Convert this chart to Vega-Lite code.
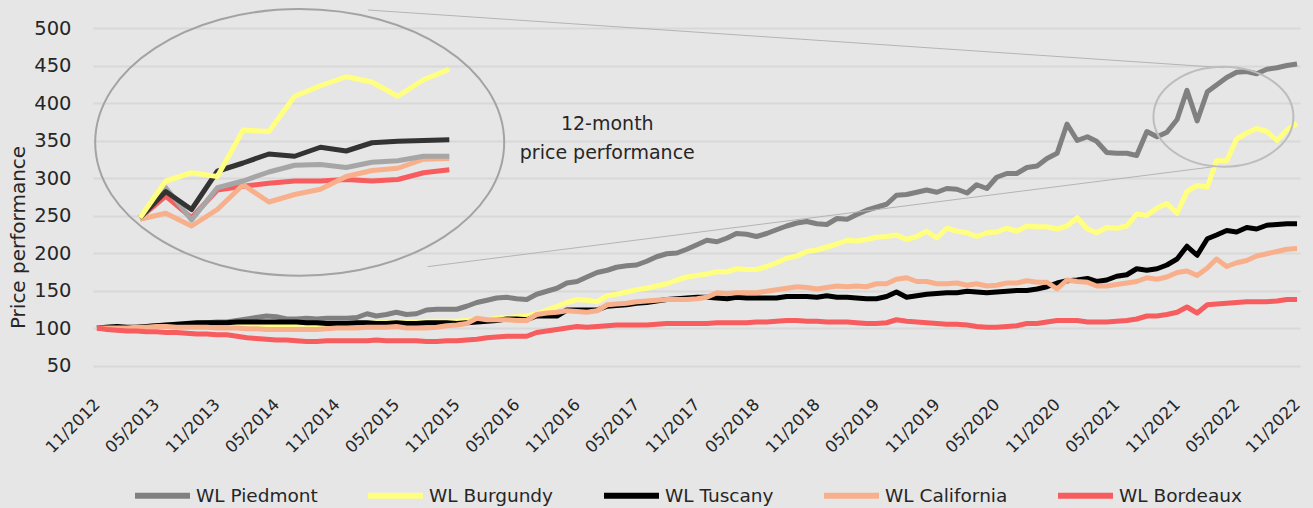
{
"$schema":"https://vega.github.io/schema/vega-lite/v6.json",
"width":1207,"height":337.5,
"autosize":"none",
"padding":{"left":93,"top":28,"right":13,"bottom":142.5},
"background":"#e7e6e6",
"config":{"view":{"stroke":null},"font":"DejaVu Sans"},
"datasets":{
"main":[
{"d":"2012-11","s":"WL Piedmont","v":100},{"d":"2012-12","s":"WL Piedmont","v":101},
{"d":"2013-01","s":"WL Piedmont","v":101},{"d":"2013-02","s":"WL Piedmont","v":100},{"d":"2013-03","s":"WL Piedmont","v":101},{"d":"2013-04","s":"WL Piedmont","v":102},{"d":"2013-05","s":"WL Piedmont","v":103},{"d":"2013-06","s":"WL Piedmont","v":104},{"d":"2013-07","s":"WL Piedmont","v":104},{"d":"2013-08","s":"WL Piedmont","v":105},{"d":"2013-09","s":"WL Piedmont","v":106},{"d":"2013-10","s":"WL Piedmont","v":107},{"d":"2013-11","s":"WL Piedmont","v":108},{"d":"2013-12","s":"WL Piedmont","v":108},
{"d":"2014-01","s":"WL Piedmont","v":110},{"d":"2014-02","s":"WL Piedmont","v":112},{"d":"2014-03","s":"WL Piedmont","v":114},{"d":"2014-04","s":"WL Piedmont","v":116},{"d":"2014-05","s":"WL Piedmont","v":115},{"d":"2014-06","s":"WL Piedmont","v":112},{"d":"2014-07","s":"WL Piedmont","v":112},{"d":"2014-08","s":"WL Piedmont","v":113},{"d":"2014-09","s":"WL Piedmont","v":112},{"d":"2014-10","s":"WL Piedmont","v":113},{"d":"2014-11","s":"WL Piedmont","v":113},{"d":"2014-12","s":"WL Piedmont","v":113},
{"d":"2015-01","s":"WL Piedmont","v":114},{"d":"2015-02","s":"WL Piedmont","v":119},{"d":"2015-03","s":"WL Piedmont","v":116},{"d":"2015-04","s":"WL Piedmont","v":118},{"d":"2015-05","s":"WL Piedmont","v":121},{"d":"2015-06","s":"WL Piedmont","v":118},{"d":"2015-07","s":"WL Piedmont","v":119},{"d":"2015-08","s":"WL Piedmont","v":124},{"d":"2015-09","s":"WL Piedmont","v":125},{"d":"2015-10","s":"WL Piedmont","v":125},{"d":"2015-11","s":"WL Piedmont","v":125},{"d":"2015-12","s":"WL Piedmont","v":129},
{"d":"2016-01","s":"WL Piedmont","v":134},{"d":"2016-02","s":"WL Piedmont","v":137},{"d":"2016-03","s":"WL Piedmont","v":140},{"d":"2016-04","s":"WL Piedmont","v":141},{"d":"2016-05","s":"WL Piedmont","v":139},{"d":"2016-06","s":"WL Piedmont","v":138},{"d":"2016-07","s":"WL Piedmont","v":145},{"d":"2016-08","s":"WL Piedmont","v":149},{"d":"2016-09","s":"WL Piedmont","v":153},{"d":"2016-10","s":"WL Piedmont","v":160},{"d":"2016-11","s":"WL Piedmont","v":162},{"d":"2016-12","s":"WL Piedmont","v":168},
{"d":"2017-01","s":"WL Piedmont","v":174},{"d":"2017-02","s":"WL Piedmont","v":177},{"d":"2017-03","s":"WL Piedmont","v":181},{"d":"2017-04","s":"WL Piedmont","v":183},{"d":"2017-05","s":"WL Piedmont","v":184},{"d":"2017-06","s":"WL Piedmont","v":189},{"d":"2017-07","s":"WL Piedmont","v":195},{"d":"2017-08","s":"WL Piedmont","v":199},{"d":"2017-09","s":"WL Piedmont","v":200},{"d":"2017-10","s":"WL Piedmont","v":205},{"d":"2017-11","s":"WL Piedmont","v":211},{"d":"2017-12","s":"WL Piedmont","v":217},
{"d":"2018-01","s":"WL Piedmont","v":215},{"d":"2018-02","s":"WL Piedmont","v":220},{"d":"2018-03","s":"WL Piedmont","v":226},{"d":"2018-04","s":"WL Piedmont","v":225},{"d":"2018-05","s":"WL Piedmont","v":222},{"d":"2018-06","s":"WL Piedmont","v":226},{"d":"2018-07","s":"WL Piedmont","v":231},{"d":"2018-08","s":"WL Piedmont","v":236},{"d":"2018-09","s":"WL Piedmont","v":240},{"d":"2018-10","s":"WL Piedmont","v":242},{"d":"2018-11","s":"WL Piedmont","v":239},{"d":"2018-12","s":"WL Piedmont","v":238},
{"d":"2019-01","s":"WL Piedmont","v":246},{"d":"2019-02","s":"WL Piedmont","v":245},{"d":"2019-03","s":"WL Piedmont","v":251},{"d":"2019-04","s":"WL Piedmont","v":257},{"d":"2019-05","s":"WL Piedmont","v":261},{"d":"2019-06","s":"WL Piedmont","v":265},{"d":"2019-07","s":"WL Piedmont","v":277},{"d":"2019-08","s":"WL Piedmont","v":278},{"d":"2019-09","s":"WL Piedmont","v":281},{"d":"2019-10","s":"WL Piedmont","v":284},{"d":"2019-11","s":"WL Piedmont","v":281},{"d":"2019-12","s":"WL Piedmont","v":286},
{"d":"2020-01","s":"WL Piedmont","v":285},{"d":"2020-02","s":"WL Piedmont","v":280},{"d":"2020-03","s":"WL Piedmont","v":291},{"d":"2020-04","s":"WL Piedmont","v":286},{"d":"2020-05","s":"WL Piedmont","v":301},{"d":"2020-06","s":"WL Piedmont","v":306},{"d":"2020-07","s":"WL Piedmont","v":306},{"d":"2020-08","s":"WL Piedmont","v":314},{"d":"2020-09","s":"WL Piedmont","v":316},{"d":"2020-10","s":"WL Piedmont","v":326},{"d":"2020-11","s":"WL Piedmont","v":333},{"d":"2020-12","s":"WL Piedmont","v":372},
{"d":"2021-01","s":"WL Piedmont","v":350},{"d":"2021-02","s":"WL Piedmont","v":355},{"d":"2021-03","s":"WL Piedmont","v":349},{"d":"2021-04","s":"WL Piedmont","v":334},{"d":"2021-05","s":"WL Piedmont","v":333},{"d":"2021-06","s":"WL Piedmont","v":333},{"d":"2021-07","s":"WL Piedmont","v":330},{"d":"2021-08","s":"WL Piedmont","v":362},{"d":"2021-09","s":"WL Piedmont","v":355},{"d":"2021-10","s":"WL Piedmont","v":361},{"d":"2021-11","s":"WL Piedmont","v":378},{"d":"2021-12","s":"WL Piedmont","v":417},
{"d":"2022-01","s":"WL Piedmont","v":376},{"d":"2022-02","s":"WL Piedmont","v":415},{"d":"2022-03","s":"WL Piedmont","v":424},{"d":"2022-04","s":"WL Piedmont","v":434},{"d":"2022-05","s":"WL Piedmont","v":441},{"d":"2022-06","s":"WL Piedmont","v":442},{"d":"2022-07","s":"WL Piedmont","v":439},{"d":"2022-08","s":"WL Piedmont","v":445},{"d":"2022-09","s":"WL Piedmont","v":447},{"d":"2022-10","s":"WL Piedmont","v":450},{"d":"2022-11","s":"WL Piedmont","v":452},

{"d":"2012-11","s":"WL Burgundy","v":100},{"d":"2012-12","s":"WL Burgundy","v":101},
{"d":"2013-01","s":"WL Burgundy","v":100},{"d":"2013-02","s":"WL Burgundy","v":99},{"d":"2013-03","s":"WL Burgundy","v":100},{"d":"2013-04","s":"WL Burgundy","v":100},{"d":"2013-05","s":"WL Burgundy","v":101},{"d":"2013-06","s":"WL Burgundy","v":101},{"d":"2013-07","s":"WL Burgundy","v":101},{"d":"2013-08","s":"WL Burgundy","v":101},{"d":"2013-09","s":"WL Burgundy","v":101},{"d":"2013-10","s":"WL Burgundy","v":102},{"d":"2013-11","s":"WL Burgundy","v":101},{"d":"2013-12","s":"WL Burgundy","v":101},
{"d":"2014-01","s":"WL Burgundy","v":102},{"d":"2014-02","s":"WL Burgundy","v":103},{"d":"2014-03","s":"WL Burgundy","v":103},{"d":"2014-04","s":"WL Burgundy","v":104},{"d":"2014-05","s":"WL Burgundy","v":104},{"d":"2014-06","s":"WL Burgundy","v":104},{"d":"2014-07","s":"WL Burgundy","v":105},{"d":"2014-08","s":"WL Burgundy","v":105},{"d":"2014-09","s":"WL Burgundy","v":104},{"d":"2014-10","s":"WL Burgundy","v":105},{"d":"2014-11","s":"WL Burgundy","v":106},{"d":"2014-12","s":"WL Burgundy","v":106},
{"d":"2015-01","s":"WL Burgundy","v":106},{"d":"2015-02","s":"WL Burgundy","v":106},{"d":"2015-03","s":"WL Burgundy","v":107},{"d":"2015-04","s":"WL Burgundy","v":107},{"d":"2015-05","s":"WL Burgundy","v":108},{"d":"2015-06","s":"WL Burgundy","v":108},{"d":"2015-07","s":"WL Burgundy","v":108},{"d":"2015-08","s":"WL Burgundy","v":109},{"d":"2015-09","s":"WL Burgundy","v":109},{"d":"2015-10","s":"WL Burgundy","v":109},{"d":"2015-11","s":"WL Burgundy","v":109},{"d":"2015-12","s":"WL Burgundy","v":110},
{"d":"2016-01","s":"WL Burgundy","v":111},{"d":"2016-02","s":"WL Burgundy","v":111},{"d":"2016-03","s":"WL Burgundy","v":113},{"d":"2016-04","s":"WL Burgundy","v":114},{"d":"2016-05","s":"WL Burgundy","v":115},{"d":"2016-06","s":"WL Burgundy","v":116},{"d":"2016-07","s":"WL Burgundy","v":119},{"d":"2016-08","s":"WL Burgundy","v":124},{"d":"2016-09","s":"WL Burgundy","v":129},{"d":"2016-10","s":"WL Burgundy","v":134},{"d":"2016-11","s":"WL Burgundy","v":138},{"d":"2016-12","s":"WL Burgundy","v":137},
{"d":"2017-01","s":"WL Burgundy","v":135},{"d":"2017-02","s":"WL Burgundy","v":143},{"d":"2017-03","s":"WL Burgundy","v":145},{"d":"2017-04","s":"WL Burgundy","v":148},{"d":"2017-05","s":"WL Burgundy","v":151},{"d":"2017-06","s":"WL Burgundy","v":153},{"d":"2017-07","s":"WL Burgundy","v":156},{"d":"2017-08","s":"WL Burgundy","v":159},{"d":"2017-09","s":"WL Burgundy","v":164},{"d":"2017-10","s":"WL Burgundy","v":168},{"d":"2017-11","s":"WL Burgundy","v":170},{"d":"2017-12","s":"WL Burgundy","v":172},
{"d":"2018-01","s":"WL Burgundy","v":175},{"d":"2018-02","s":"WL Burgundy","v":175},{"d":"2018-03","s":"WL Burgundy","v":179},{"d":"2018-04","s":"WL Burgundy","v":178},{"d":"2018-05","s":"WL Burgundy","v":178},{"d":"2018-06","s":"WL Burgundy","v":182},{"d":"2018-07","s":"WL Burgundy","v":187},{"d":"2018-08","s":"WL Burgundy","v":193},{"d":"2018-09","s":"WL Burgundy","v":196},{"d":"2018-10","s":"WL Burgundy","v":202},{"d":"2018-11","s":"WL Burgundy","v":204},{"d":"2018-12","s":"WL Burgundy","v":208},
{"d":"2019-01","s":"WL Burgundy","v":212},{"d":"2019-02","s":"WL Burgundy","v":217},{"d":"2019-03","s":"WL Burgundy","v":216},{"d":"2019-04","s":"WL Burgundy","v":218},{"d":"2019-05","s":"WL Burgundy","v":221},{"d":"2019-06","s":"WL Burgundy","v":222},{"d":"2019-07","s":"WL Burgundy","v":224},{"d":"2019-08","s":"WL Burgundy","v":218},{"d":"2019-09","s":"WL Burgundy","v":222},{"d":"2019-10","s":"WL Burgundy","v":229},{"d":"2019-11","s":"WL Burgundy","v":220},{"d":"2019-12","s":"WL Burgundy","v":233},
{"d":"2020-01","s":"WL Burgundy","v":229},{"d":"2020-02","s":"WL Burgundy","v":227},{"d":"2020-03","s":"WL Burgundy","v":222},{"d":"2020-04","s":"WL Burgundy","v":227},{"d":"2020-05","s":"WL Burgundy","v":228},{"d":"2020-06","s":"WL Burgundy","v":233},{"d":"2020-07","s":"WL Burgundy","v":229},{"d":"2020-08","s":"WL Burgundy","v":236},{"d":"2020-09","s":"WL Burgundy","v":235},{"d":"2020-10","s":"WL Burgundy","v":235},{"d":"2020-11","s":"WL Burgundy","v":232},{"d":"2020-12","s":"WL Burgundy","v":236},
{"d":"2021-01","s":"WL Burgundy","v":247},{"d":"2021-02","s":"WL Burgundy","v":232},{"d":"2021-03","s":"WL Burgundy","v":227},{"d":"2021-04","s":"WL Burgundy","v":234},{"d":"2021-05","s":"WL Burgundy","v":233},{"d":"2021-06","s":"WL Burgundy","v":236},{"d":"2021-07","s":"WL Burgundy","v":252},{"d":"2021-08","s":"WL Burgundy","v":250},{"d":"2021-09","s":"WL Burgundy","v":260},{"d":"2021-10","s":"WL Burgundy","v":266},{"d":"2021-11","s":"WL Burgundy","v":253},{"d":"2021-12","s":"WL Burgundy","v":282},
{"d":"2022-01","s":"WL Burgundy","v":290},{"d":"2022-02","s":"WL Burgundy","v":288},{"d":"2022-03","s":"WL Burgundy","v":323},{"d":"2022-04","s":"WL Burgundy","v":323},{"d":"2022-05","s":"WL Burgundy","v":352},{"d":"2022-06","s":"WL Burgundy","v":360},{"d":"2022-07","s":"WL Burgundy","v":366},{"d":"2022-08","s":"WL Burgundy","v":362},{"d":"2022-09","s":"WL Burgundy","v":350},{"d":"2022-10","s":"WL Burgundy","v":364},{"d":"2022-11","s":"WL Burgundy","v":373},

{"d":"2012-11","s":"WL Tuscany","v":100},{"d":"2012-12","s":"WL Tuscany","v":101},
{"d":"2013-01","s":"WL Tuscany","v":102},{"d":"2013-02","s":"WL Tuscany","v":101},{"d":"2013-03","s":"WL Tuscany","v":101},{"d":"2013-04","s":"WL Tuscany","v":102},{"d":"2013-05","s":"WL Tuscany","v":103},{"d":"2013-06","s":"WL Tuscany","v":104},{"d":"2013-07","s":"WL Tuscany","v":105},{"d":"2013-08","s":"WL Tuscany","v":106},{"d":"2013-09","s":"WL Tuscany","v":107},{"d":"2013-10","s":"WL Tuscany","v":107},{"d":"2013-11","s":"WL Tuscany","v":107},{"d":"2013-12","s":"WL Tuscany","v":107},
{"d":"2014-01","s":"WL Tuscany","v":108},{"d":"2014-02","s":"WL Tuscany","v":108},{"d":"2014-03","s":"WL Tuscany","v":108},{"d":"2014-04","s":"WL Tuscany","v":108},{"d":"2014-05","s":"WL Tuscany","v":108},{"d":"2014-06","s":"WL Tuscany","v":108},{"d":"2014-07","s":"WL Tuscany","v":108},{"d":"2014-08","s":"WL Tuscany","v":107},{"d":"2014-09","s":"WL Tuscany","v":107},{"d":"2014-10","s":"WL Tuscany","v":106},{"d":"2014-11","s":"WL Tuscany","v":106},{"d":"2014-12","s":"WL Tuscany","v":106},
{"d":"2015-01","s":"WL Tuscany","v":107},{"d":"2015-02","s":"WL Tuscany","v":107},{"d":"2015-03","s":"WL Tuscany","v":106},{"d":"2015-04","s":"WL Tuscany","v":106},{"d":"2015-05","s":"WL Tuscany","v":107},{"d":"2015-06","s":"WL Tuscany","v":106},{"d":"2015-07","s":"WL Tuscany","v":106},{"d":"2015-08","s":"WL Tuscany","v":107},{"d":"2015-09","s":"WL Tuscany","v":107},{"d":"2015-10","s":"WL Tuscany","v":107},{"d":"2015-11","s":"WL Tuscany","v":106},{"d":"2015-12","s":"WL Tuscany","v":107},
{"d":"2016-01","s":"WL Tuscany","v":108},{"d":"2016-02","s":"WL Tuscany","v":109},{"d":"2016-03","s":"WL Tuscany","v":110},{"d":"2016-04","s":"WL Tuscany","v":112},{"d":"2016-05","s":"WL Tuscany","v":112},{"d":"2016-06","s":"WL Tuscany","v":111},{"d":"2016-07","s":"WL Tuscany","v":116},{"d":"2016-08","s":"WL Tuscany","v":116},{"d":"2016-09","s":"WL Tuscany","v":116},{"d":"2016-10","s":"WL Tuscany","v":124},{"d":"2016-11","s":"WL Tuscany","v":124},{"d":"2016-12","s":"WL Tuscany","v":124},
{"d":"2017-01","s":"WL Tuscany","v":124},{"d":"2017-02","s":"WL Tuscany","v":129},{"d":"2017-03","s":"WL Tuscany","v":130},{"d":"2017-04","s":"WL Tuscany","v":131},{"d":"2017-05","s":"WL Tuscany","v":133},{"d":"2017-06","s":"WL Tuscany","v":134},{"d":"2017-07","s":"WL Tuscany","v":136},{"d":"2017-08","s":"WL Tuscany","v":138},{"d":"2017-09","s":"WL Tuscany","v":139},{"d":"2017-10","s":"WL Tuscany","v":140},{"d":"2017-11","s":"WL Tuscany","v":141},{"d":"2017-12","s":"WL Tuscany","v":141},
{"d":"2018-01","s":"WL Tuscany","v":140},{"d":"2018-02","s":"WL Tuscany","v":139},{"d":"2018-03","s":"WL Tuscany","v":141},{"d":"2018-04","s":"WL Tuscany","v":140},{"d":"2018-05","s":"WL Tuscany","v":140},{"d":"2018-06","s":"WL Tuscany","v":140},{"d":"2018-07","s":"WL Tuscany","v":140},{"d":"2018-08","s":"WL Tuscany","v":142},{"d":"2018-09","s":"WL Tuscany","v":142},{"d":"2018-10","s":"WL Tuscany","v":142},{"d":"2018-11","s":"WL Tuscany","v":141},{"d":"2018-12","s":"WL Tuscany","v":143},
{"d":"2019-01","s":"WL Tuscany","v":141},{"d":"2019-02","s":"WL Tuscany","v":141},{"d":"2019-03","s":"WL Tuscany","v":140},{"d":"2019-04","s":"WL Tuscany","v":139},{"d":"2019-05","s":"WL Tuscany","v":139},{"d":"2019-06","s":"WL Tuscany","v":142},{"d":"2019-07","s":"WL Tuscany","v":148},{"d":"2019-08","s":"WL Tuscany","v":141},{"d":"2019-09","s":"WL Tuscany","v":143},{"d":"2019-10","s":"WL Tuscany","v":145},{"d":"2019-11","s":"WL Tuscany","v":146},{"d":"2019-12","s":"WL Tuscany","v":147},
{"d":"2020-01","s":"WL Tuscany","v":147},{"d":"2020-02","s":"WL Tuscany","v":149},{"d":"2020-03","s":"WL Tuscany","v":148},{"d":"2020-04","s":"WL Tuscany","v":147},{"d":"2020-05","s":"WL Tuscany","v":148},{"d":"2020-06","s":"WL Tuscany","v":149},{"d":"2020-07","s":"WL Tuscany","v":150},{"d":"2020-08","s":"WL Tuscany","v":150},{"d":"2020-09","s":"WL Tuscany","v":152},{"d":"2020-10","s":"WL Tuscany","v":155},{"d":"2020-11","s":"WL Tuscany","v":160},{"d":"2020-12","s":"WL Tuscany","v":163},
{"d":"2021-01","s":"WL Tuscany","v":164},{"d":"2021-02","s":"WL Tuscany","v":166},{"d":"2021-03","s":"WL Tuscany","v":162},{"d":"2021-04","s":"WL Tuscany","v":164},{"d":"2021-05","s":"WL Tuscany","v":169},{"d":"2021-06","s":"WL Tuscany","v":171},{"d":"2021-07","s":"WL Tuscany","v":179},{"d":"2021-08","s":"WL Tuscany","v":177},{"d":"2021-09","s":"WL Tuscany","v":179},{"d":"2021-10","s":"WL Tuscany","v":184},{"d":"2021-11","s":"WL Tuscany","v":192},{"d":"2021-12","s":"WL Tuscany","v":209},
{"d":"2022-01","s":"WL Tuscany","v":197},{"d":"2022-02","s":"WL Tuscany","v":219},{"d":"2022-03","s":"WL Tuscany","v":224},{"d":"2022-04","s":"WL Tuscany","v":230},{"d":"2022-05","s":"WL Tuscany","v":228},{"d":"2022-06","s":"WL Tuscany","v":234},{"d":"2022-07","s":"WL Tuscany","v":232},{"d":"2022-08","s":"WL Tuscany","v":237},{"d":"2022-09","s":"WL Tuscany","v":238},{"d":"2022-10","s":"WL Tuscany","v":239},{"d":"2022-11","s":"WL Tuscany","v":239},

{"d":"2012-11","s":"WL California","v":100},{"d":"2012-12","s":"WL California","v":100},
{"d":"2013-01","s":"WL California","v":100},{"d":"2013-02","s":"WL California","v":100},{"d":"2013-03","s":"WL California","v":101},{"d":"2013-04","s":"WL California","v":101},{"d":"2013-05","s":"WL California","v":102},{"d":"2013-06","s":"WL California","v":102},{"d":"2013-07","s":"WL California","v":101},{"d":"2013-08","s":"WL California","v":101},{"d":"2013-09","s":"WL California","v":101},{"d":"2013-10","s":"WL California","v":101},{"d":"2013-11","s":"WL California","v":100},{"d":"2013-12","s":"WL California","v":100},
{"d":"2014-01","s":"WL California","v":100},{"d":"2014-02","s":"WL California","v":99},{"d":"2014-03","s":"WL California","v":99},{"d":"2014-04","s":"WL California","v":98},{"d":"2014-05","s":"WL California","v":98},{"d":"2014-06","s":"WL California","v":98},{"d":"2014-07","s":"WL California","v":98},{"d":"2014-08","s":"WL California","v":98},{"d":"2014-09","s":"WL California","v":98},{"d":"2014-10","s":"WL California","v":99},{"d":"2014-11","s":"WL California","v":100},{"d":"2014-12","s":"WL California","v":100},
{"d":"2015-01","s":"WL California","v":100},{"d":"2015-02","s":"WL California","v":101},{"d":"2015-03","s":"WL California","v":101},{"d":"2015-04","s":"WL California","v":101},{"d":"2015-05","s":"WL California","v":102},{"d":"2015-06","s":"WL California","v":100},{"d":"2015-07","s":"WL California","v":100},{"d":"2015-08","s":"WL California","v":100},{"d":"2015-09","s":"WL California","v":101},{"d":"2015-10","s":"WL California","v":103},{"d":"2015-11","s":"WL California","v":104},{"d":"2015-12","s":"WL California","v":106},
{"d":"2016-01","s":"WL California","v":113},{"d":"2016-02","s":"WL California","v":111},{"d":"2016-03","s":"WL California","v":111},{"d":"2016-04","s":"WL California","v":111},{"d":"2016-05","s":"WL California","v":110},{"d":"2016-06","s":"WL California","v":110},{"d":"2016-07","s":"WL California","v":118},{"d":"2016-08","s":"WL California","v":120},{"d":"2016-09","s":"WL California","v":121},{"d":"2016-10","s":"WL California","v":123},{"d":"2016-11","s":"WL California","v":122},{"d":"2016-12","s":"WL California","v":121},
{"d":"2017-01","s":"WL California","v":123},{"d":"2017-02","s":"WL California","v":131},{"d":"2017-03","s":"WL California","v":132},{"d":"2017-04","s":"WL California","v":133},{"d":"2017-05","s":"WL California","v":135},{"d":"2017-06","s":"WL California","v":136},{"d":"2017-07","s":"WL California","v":137},{"d":"2017-08","s":"WL California","v":138},{"d":"2017-09","s":"WL California","v":138},{"d":"2017-10","s":"WL California","v":138},{"d":"2017-11","s":"WL California","v":139},{"d":"2017-12","s":"WL California","v":141},
{"d":"2018-01","s":"WL California","v":147},{"d":"2018-02","s":"WL California","v":146},{"d":"2018-03","s":"WL California","v":147},{"d":"2018-04","s":"WL California","v":147},{"d":"2018-05","s":"WL California","v":147},{"d":"2018-06","s":"WL California","v":149},{"d":"2018-07","s":"WL California","v":151},{"d":"2018-08","s":"WL California","v":153},{"d":"2018-09","s":"WL California","v":155},{"d":"2018-10","s":"WL California","v":154},{"d":"2018-11","s":"WL California","v":152},{"d":"2018-12","s":"WL California","v":154},
{"d":"2019-01","s":"WL California","v":156},{"d":"2019-02","s":"WL California","v":155},{"d":"2019-03","s":"WL California","v":156},{"d":"2019-04","s":"WL California","v":155},{"d":"2019-05","s":"WL California","v":159},{"d":"2019-06","s":"WL California","v":159},{"d":"2019-07","s":"WL California","v":165},{"d":"2019-08","s":"WL California","v":167},{"d":"2019-09","s":"WL California","v":162},{"d":"2019-10","s":"WL California","v":162},{"d":"2019-11","s":"WL California","v":159},{"d":"2019-12","s":"WL California","v":159},
{"d":"2020-01","s":"WL California","v":160},{"d":"2020-02","s":"WL California","v":157},{"d":"2020-03","s":"WL California","v":159},{"d":"2020-04","s":"WL California","v":156},{"d":"2020-05","s":"WL California","v":157},{"d":"2020-06","s":"WL California","v":160},{"d":"2020-07","s":"WL California","v":160},{"d":"2020-08","s":"WL California","v":163},{"d":"2020-09","s":"WL California","v":161},{"d":"2020-10","s":"WL California","v":161},{"d":"2020-11","s":"WL California","v":152},{"d":"2020-12","s":"WL California","v":164},
{"d":"2021-01","s":"WL California","v":162},{"d":"2021-02","s":"WL California","v":161},{"d":"2021-03","s":"WL California","v":156},{"d":"2021-04","s":"WL California","v":156},{"d":"2021-05","s":"WL California","v":158},{"d":"2021-06","s":"WL California","v":160},{"d":"2021-07","s":"WL California","v":162},{"d":"2021-08","s":"WL California","v":167},{"d":"2021-09","s":"WL California","v":165},{"d":"2021-10","s":"WL California","v":168},{"d":"2021-11","s":"WL California","v":174},{"d":"2021-12","s":"WL California","v":176},
{"d":"2022-01","s":"WL California","v":170},{"d":"2022-02","s":"WL California","v":180},{"d":"2022-03","s":"WL California","v":192},{"d":"2022-04","s":"WL California","v":182},{"d":"2022-05","s":"WL California","v":187},{"d":"2022-06","s":"WL California","v":190},{"d":"2022-07","s":"WL California","v":196},{"d":"2022-08","s":"WL California","v":199},{"d":"2022-09","s":"WL California","v":202},{"d":"2022-10","s":"WL California","v":205},{"d":"2022-11","s":"WL California","v":206},

{"d":"2012-11","s":"WL Bordeaux","v":100},{"d":"2012-12","s":"WL Bordeaux","v":98},
{"d":"2013-01","s":"WL Bordeaux","v":97},{"d":"2013-02","s":"WL Bordeaux","v":96},{"d":"2013-03","s":"WL Bordeaux","v":96},{"d":"2013-04","s":"WL Bordeaux","v":95},{"d":"2013-05","s":"WL Bordeaux","v":95},{"d":"2013-06","s":"WL Bordeaux","v":94},{"d":"2013-07","s":"WL Bordeaux","v":94},{"d":"2013-08","s":"WL Bordeaux","v":93},{"d":"2013-09","s":"WL Bordeaux","v":92},{"d":"2013-10","s":"WL Bordeaux","v":92},{"d":"2013-11","s":"WL Bordeaux","v":91},{"d":"2013-12","s":"WL Bordeaux","v":91},
{"d":"2014-01","s":"WL Bordeaux","v":89},{"d":"2014-02","s":"WL Bordeaux","v":87},{"d":"2014-03","s":"WL Bordeaux","v":86},{"d":"2014-04","s":"WL Bordeaux","v":85},{"d":"2014-05","s":"WL Bordeaux","v":84},{"d":"2014-06","s":"WL Bordeaux","v":84},{"d":"2014-07","s":"WL Bordeaux","v":83},{"d":"2014-08","s":"WL Bordeaux","v":82},{"d":"2014-09","s":"WL Bordeaux","v":82},{"d":"2014-10","s":"WL Bordeaux","v":83},{"d":"2014-11","s":"WL Bordeaux","v":83},{"d":"2014-12","s":"WL Bordeaux","v":83},
{"d":"2015-01","s":"WL Bordeaux","v":83},{"d":"2015-02","s":"WL Bordeaux","v":83},{"d":"2015-03","s":"WL Bordeaux","v":84},{"d":"2015-04","s":"WL Bordeaux","v":83},{"d":"2015-05","s":"WL Bordeaux","v":83},{"d":"2015-06","s":"WL Bordeaux","v":83},{"d":"2015-07","s":"WL Bordeaux","v":83},{"d":"2015-08","s":"WL Bordeaux","v":82},{"d":"2015-09","s":"WL Bordeaux","v":82},{"d":"2015-10","s":"WL Bordeaux","v":83},{"d":"2015-11","s":"WL Bordeaux","v":83},{"d":"2015-12","s":"WL Bordeaux","v":84},
{"d":"2016-01","s":"WL Bordeaux","v":85},{"d":"2016-02","s":"WL Bordeaux","v":87},{"d":"2016-03","s":"WL Bordeaux","v":88},{"d":"2016-04","s":"WL Bordeaux","v":89},{"d":"2016-05","s":"WL Bordeaux","v":89},{"d":"2016-06","s":"WL Bordeaux","v":89},{"d":"2016-07","s":"WL Bordeaux","v":94},{"d":"2016-08","s":"WL Bordeaux","v":96},{"d":"2016-09","s":"WL Bordeaux","v":98},{"d":"2016-10","s":"WL Bordeaux","v":100},{"d":"2016-11","s":"WL Bordeaux","v":102},{"d":"2016-12","s":"WL Bordeaux","v":101},
{"d":"2017-01","s":"WL Bordeaux","v":102},{"d":"2017-02","s":"WL Bordeaux","v":103},{"d":"2017-03","s":"WL Bordeaux","v":104},{"d":"2017-04","s":"WL Bordeaux","v":104},{"d":"2017-05","s":"WL Bordeaux","v":104},{"d":"2017-06","s":"WL Bordeaux","v":104},{"d":"2017-07","s":"WL Bordeaux","v":105},{"d":"2017-08","s":"WL Bordeaux","v":106},{"d":"2017-09","s":"WL Bordeaux","v":106},{"d":"2017-10","s":"WL Bordeaux","v":106},{"d":"2017-11","s":"WL Bordeaux","v":106},{"d":"2017-12","s":"WL Bordeaux","v":106},
{"d":"2018-01","s":"WL Bordeaux","v":107},{"d":"2018-02","s":"WL Bordeaux","v":107},{"d":"2018-03","s":"WL Bordeaux","v":107},{"d":"2018-04","s":"WL Bordeaux","v":107},{"d":"2018-05","s":"WL Bordeaux","v":108},{"d":"2018-06","s":"WL Bordeaux","v":108},{"d":"2018-07","s":"WL Bordeaux","v":109},{"d":"2018-08","s":"WL Bordeaux","v":110},{"d":"2018-09","s":"WL Bordeaux","v":110},{"d":"2018-10","s":"WL Bordeaux","v":109},{"d":"2018-11","s":"WL Bordeaux","v":109},{"d":"2018-12","s":"WL Bordeaux","v":108},
{"d":"2019-01","s":"WL Bordeaux","v":108},{"d":"2019-02","s":"WL Bordeaux","v":108},{"d":"2019-03","s":"WL Bordeaux","v":107},{"d":"2019-04","s":"WL Bordeaux","v":106},{"d":"2019-05","s":"WL Bordeaux","v":106},{"d":"2019-06","s":"WL Bordeaux","v":107},{"d":"2019-07","s":"WL Bordeaux","v":111},{"d":"2019-08","s":"WL Bordeaux","v":109},{"d":"2019-09","s":"WL Bordeaux","v":108},{"d":"2019-10","s":"WL Bordeaux","v":107},{"d":"2019-11","s":"WL Bordeaux","v":106},{"d":"2019-12","s":"WL Bordeaux","v":105},
{"d":"2020-01","s":"WL Bordeaux","v":105},{"d":"2020-02","s":"WL Bordeaux","v":104},{"d":"2020-03","s":"WL Bordeaux","v":102},{"d":"2020-04","s":"WL Bordeaux","v":101},{"d":"2020-05","s":"WL Bordeaux","v":101},{"d":"2020-06","s":"WL Bordeaux","v":102},{"d":"2020-07","s":"WL Bordeaux","v":103},{"d":"2020-08","s":"WL Bordeaux","v":106},{"d":"2020-09","s":"WL Bordeaux","v":106},{"d":"2020-10","s":"WL Bordeaux","v":108},{"d":"2020-11","s":"WL Bordeaux","v":110},{"d":"2020-12","s":"WL Bordeaux","v":110},
{"d":"2021-01","s":"WL Bordeaux","v":110},{"d":"2021-02","s":"WL Bordeaux","v":108},{"d":"2021-03","s":"WL Bordeaux","v":108},{"d":"2021-04","s":"WL Bordeaux","v":108},{"d":"2021-05","s":"WL Bordeaux","v":109},{"d":"2021-06","s":"WL Bordeaux","v":110},{"d":"2021-07","s":"WL Bordeaux","v":112},{"d":"2021-08","s":"WL Bordeaux","v":116},{"d":"2021-09","s":"WL Bordeaux","v":116},{"d":"2021-10","s":"WL Bordeaux","v":118},{"d":"2021-11","s":"WL Bordeaux","v":121},{"d":"2021-12","s":"WL Bordeaux","v":128},
{"d":"2022-01","s":"WL Bordeaux","v":120},{"d":"2022-02","s":"WL Bordeaux","v":131},{"d":"2022-03","s":"WL Bordeaux","v":132},{"d":"2022-04","s":"WL Bordeaux","v":133},{"d":"2022-05","s":"WL Bordeaux","v":134},{"d":"2022-06","s":"WL Bordeaux","v":135},{"d":"2022-07","s":"WL Bordeaux","v":135},{"d":"2022-08","s":"WL Bordeaux","v":135},{"d":"2022-09","s":"WL Bordeaux","v":136},{"d":"2022-10","s":"WL Bordeaux","v":138},{"d":"2022-11","s":"WL Bordeaux","v":138}
],
"inset":[
{"m":"11/2021","s":"WL Bordeaux","v":247},{"m":"12/2021","s":"WL Bordeaux","v":276},{"m":"01/2022","s":"WL Bordeaux","v":247},{"m":"02/2022","s":"WL Bordeaux","v":284},{"m":"03/2022","s":"WL Bordeaux","v":289},{"m":"04/2022","s":"WL Bordeaux","v":293},{"m":"05/2022","s":"WL Bordeaux","v":296},{"m":"06/2022","s":"WL Bordeaux","v":296},{"m":"07/2022","s":"WL Bordeaux","v":298},{"m":"08/2022","s":"WL Bordeaux","v":296},{"m":"09/2022","s":"WL Bordeaux","v":298},{"m":"10/2022","s":"WL Bordeaux","v":307},{"m":"11/2022","s":"WL Bordeaux","v":311},
{"m":"11/2021","s":"WL California","v":245},{"m":"12/2021","s":"WL California","v":253},{"m":"01/2022","s":"WL California","v":236},{"m":"02/2022","s":"WL California","v":258},{"m":"03/2022","s":"WL California","v":291},{"m":"04/2022","s":"WL California","v":268},{"m":"05/2022","s":"WL California","v":278},{"m":"06/2022","s":"WL California","v":285},{"m":"07/2022","s":"WL California","v":302},{"m":"08/2022","s":"WL California","v":310},{"m":"09/2022","s":"WL California","v":313},{"m":"10/2022","s":"WL California","v":325},{"m":"11/2022","s":"WL California","v":326},
{"m":"11/2021","s":"WL Piedmont","v":247},{"m":"12/2021","s":"WL Piedmont","v":287},{"m":"01/2022","s":"WL Piedmont","v":244},{"m":"02/2022","s":"WL Piedmont","v":287},{"m":"03/2022","s":"WL Piedmont","v":296},{"m":"04/2022","s":"WL Piedmont","v":308},{"m":"05/2022","s":"WL Piedmont","v":317},{"m":"06/2022","s":"WL Piedmont","v":318},{"m":"07/2022","s":"WL Piedmont","v":314},{"m":"08/2022","s":"WL Piedmont","v":321},{"m":"09/2022","s":"WL Piedmont","v":323},{"m":"10/2022","s":"WL Piedmont","v":329},{"m":"11/2022","s":"WL Piedmont","v":329},
{"m":"11/2021","s":"WL Tuscany","v":247},{"m":"12/2021","s":"WL Tuscany","v":282},{"m":"01/2022","s":"WL Tuscany","v":258},{"m":"02/2022","s":"WL Tuscany","v":309},{"m":"03/2022","s":"WL Tuscany","v":320},{"m":"04/2022","s":"WL Tuscany","v":332},{"m":"05/2022","s":"WL Tuscany","v":329},{"m":"06/2022","s":"WL Tuscany","v":341},{"m":"07/2022","s":"WL Tuscany","v":336},{"m":"08/2022","s":"WL Tuscany","v":347},{"m":"09/2022","s":"WL Tuscany","v":349},{"m":"10/2022","s":"WL Tuscany","v":350},{"m":"11/2022","s":"WL Tuscany","v":351},
{"m":"11/2021","s":"WL Burgundy","v":247},{"m":"12/2021","s":"WL Burgundy","v":296},{"m":"01/2022","s":"WL Burgundy","v":307},{"m":"02/2022","s":"WL Burgundy","v":302},{"m":"03/2022","s":"WL Burgundy","v":364},{"m":"04/2022","s":"WL Burgundy","v":362},{"m":"05/2022","s":"WL Burgundy","v":409},{"m":"06/2022","s":"WL Burgundy","v":423},{"m":"07/2022","s":"WL Burgundy","v":435},{"m":"08/2022","s":"WL Burgundy","v":428},{"m":"09/2022","s":"WL Burgundy","v":409},{"m":"10/2022","s":"WL Burgundy","v":431},{"m":"11/2022","s":"WL Burgundy","v":445}
]
},
"layer":[
{"layer":[
{"data":{"name":"main"},
 "mark":{"type":"line","strokeWidth":5,"strokeJoin":"round"},
 "encoding":{
  "x":{"field":"d","type":"temporal",
   "scale":{"type":"utc","domain":[{"year":2012,"month":10,"date":20,"utc":true},{"year":2022,"month":11,"date":10,"utc":true}]},
   "axis":{"title":null,"grid":false,"domain":false,"ticks":false,"tickCount":30,
    "values":[{"year":2012,"month":11,"date":1,"utc":true},{"year":2013,"month":5,"date":1,"utc":true},{"year":2013,"month":11,"date":1,"utc":true},{"year":2014,"month":5,"date":1,"utc":true},{"year":2014,"month":11,"date":1,"utc":true},{"year":2015,"month":5,"date":1,"utc":true},{"year":2015,"month":11,"date":1,"utc":true},{"year":2016,"month":5,"date":1,"utc":true},{"year":2016,"month":11,"date":1,"utc":true},{"year":2017,"month":5,"date":1,"utc":true},{"year":2017,"month":11,"date":1,"utc":true},{"year":2018,"month":5,"date":1,"utc":true},{"year":2018,"month":11,"date":1,"utc":true},{"year":2019,"month":5,"date":1,"utc":true},{"year":2019,"month":11,"date":1,"utc":true},{"year":2020,"month":5,"date":1,"utc":true},{"year":2020,"month":11,"date":1,"utc":true},{"year":2021,"month":5,"date":1,"utc":true},{"year":2021,"month":11,"date":1,"utc":true},{"year":2022,"month":5,"date":1,"utc":true},{"year":2022,"month":11,"date":1,"utc":true}],
    "labelExpr":"utcFormat(datum.value, '%m/%Y')",
    "labelAngle":-45,"labelAlign":"right","labelBaseline":"middle",
    "labelFontSize":16.5,"labelColor":"#262626","labelPadding":36,"labelOverlap":false,"labelBound":false,"labelFlush":false}},
  "y":{"field":"v","type":"quantitative",
   "scale":{"domain":[50,500],"nice":false,"zero":false},
   "axis":{"values":[50,100,150,200,250,300,350,400,450,500],"tickCount":12,"domain":false,"ticks":false,"labelOverlap":false,
    "grid":true,"gridColor":"#d8d8d8","gridWidth":2,
    "labelFontSize":19.5,"labelColor":"#262626","labelPadding":22,
    "title":"Price performance","titleFontSize":20,"titleFontWeight":"normal","titleColor":"#262626",
    "titleAngle":-90,"titleAlign":"center","titleBaseline":"middle","titleX":-75,"titleY":209}},
  "color":{"field":"s","type":"nominal",
   "scale":{"domain":["WL Piedmont","WL Burgundy","WL Tuscany","WL California","WL Bordeaux"],
    "range":["#808080","#ffff80","#000000","#f8b08c","#f75c5e"]},
   "legend":{"title":null,"orient":"none","direction":"horizontal","legendX":39,"legendY":437,
    "symbolType":"stroke","symbolSize":3025,"symbolStrokeWidth":6,
    "labelFontSize":18.5,"labelColor":"#262626","labelOffset":3,"columnPadding":38,"labelLimit":300}}
 }},
{"data":{"values":[{"d":"2015-02-04","v":524,"d2":"2022-03-25","v2":447},{"d":"2015-08-04","v":181.8,"d2":"2022-02-19","v2":315}]},
 "mark":{"type":"rule","stroke":"#b4b4b4","strokeWidth":1},
 "encoding":{"x":{"field":"d","type":"temporal"},"x2":{"field":"d2"},"y":{"field":"v","type":"quantitative"},"y2":{"field":"v2"}}},
{"data":{"values":[{"d":"2014-07-11","v":347.5}]},
 "mark":{"type":"point","shape":"M -1 0 C -1 -0.36 -0.552 -0.652 0 -0.652 C 0.552 -0.652 1 -0.36 1 0 C 1 0.36 0.552 0.652 0 0.652 C -0.552 0.652 -1 0.36 -1 0 Z","size":167281,"filled":false,"stroke":"#a3a3a3","strokeWidth":2,"opacity":1},
 "encoding":{"x":{"field":"d","type":"temporal"},"y":{"field":"v","type":"quantitative"}}},
{"data":{"values":[{"d":"2022-03-22","v":381.7}]},
 "mark":{"type":"point","shape":"M -1 0 C -1 -0.394 -0.552 -0.714 0 -0.714 C 0.552 -0.714 1 -0.394 1 0 C 1 0.394 0.552 0.714 0 0.714 C -0.552 0.714 -1 0.394 -1 0 Z","size":19600,"filled":false,"stroke":"#bdbdbd","strokeWidth":2,"opacity":1},
 "encoding":{"x":{"field":"d","type":"temporal"},"y":{"field":"v","type":"quantitative"}}},
{"data":{"values":[{"d":"2017-02-01","v":372,"t":"12-month\nprice performance"}]},
 "mark":{"type":"text","fontSize":19,"lineBreak":"\n","lineHeight":29,"align":"center","baseline":"middle","color":"#262626"},
 "encoding":{"x":{"field":"d","type":"temporal"},"y":{"field":"v","type":"quantitative"},"text":{"field":"t"}}}
]},
{"data":{"name":"inset"},
 "mark":{"type":"line","strokeWidth":5,"strokeJoin":"round"},
 "encoding":{
  "x":{"field":"m","type":"ordinal","sort":null,"scale":{"type":"point","range":[47,356.3],"padding":0},"axis":null},
  "y":{"field":"v","type":"quantitative","axis":{"values":[50,100,150,200,250,300,350,400,450,500],"tickCount":12,"labelOverlap":false}},
  "color":{"field":"s","type":"nominal","sort":null,
   "scale":{"domain":["WL Bordeaux","WL California","WL Piedmont","WL Tuscany","WL Burgundy"],"range":["#f75c5e","#f8b08c","#a6a6a6","#333333","#ffff80"]},
   "legend":null}}}
],
"resolve":{"scale":{"x":"independent","color":"independent"}}
}
